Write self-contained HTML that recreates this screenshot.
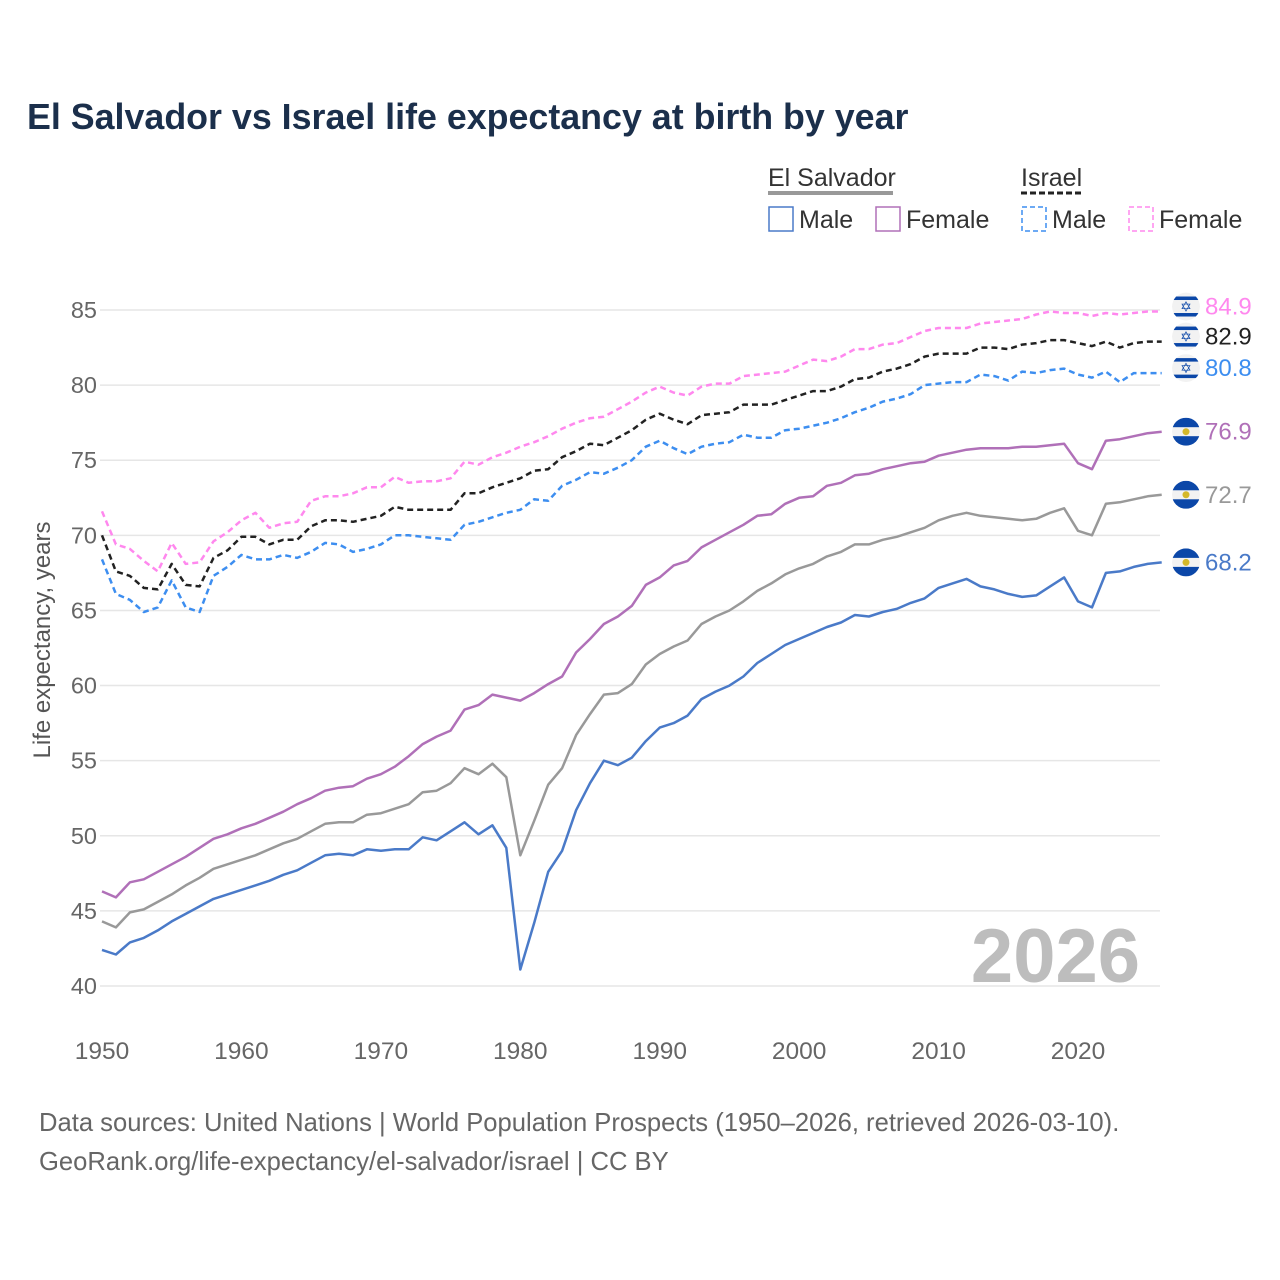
<!DOCTYPE html>
<html><head><meta charset="utf-8"><style>
body{margin:0;background:#fff;font-family:"Liberation Sans",sans-serif;}
#wrap{position:relative;width:1280px;height:1280px;overflow:hidden;}
</style></head><body>
<div id="wrap">
<svg id="chart" width="1280" height="1280" xmlns="http://www.w3.org/2000/svg">
<defs><clipPath id="flagclip"><circle cx="0" cy="0" r="14"/></clipPath></defs>
<text x="27" y="129" font-size="35.8" font-weight="bold" fill="#1b2f4b">El Salvador vs Israel life expectancy at birth by year</text>
<g font-size="25" fill="#333">
<text x="768" y="186">El Salvador</text>
<line x1="768" y1="193" x2="893" y2="193" stroke="#999" stroke-width="4"/>
<text x="1021" y="186">Israel</text>
<line x1="1021" y1="193" x2="1083" y2="193" stroke="#222" stroke-width="3" stroke-dasharray="6,3"/>
<rect x="769" y="207" width="24" height="24" fill="none" stroke="#4a7ac8" stroke-width="1.5"/>
<text x="799" y="228">Male</text>
<rect x="876" y="207" width="24" height="24" fill="none" stroke="#b070b8" stroke-width="1.5"/>
<text x="906" y="228">Female</text>
<rect x="1022" y="207" width="24" height="24" fill="none" stroke="#3d8ef0" stroke-width="1.5" stroke-dasharray="5,3"/>
<text x="1052" y="228">Male</text>
<rect x="1129" y="207" width="24" height="24" fill="none" stroke="#ff88ee" stroke-width="1.5" stroke-dasharray="5,3"/>
<text x="1159" y="228">Female</text>
</g>
<g id="grid"></g><g id="axes"></g>
<text x="1140" y="982" font-size="76" font-weight="bold" fill="#bdbdbd" text-anchor="end">2026</text>
<g id="series"></g><g id="endlabels"></g>
<text transform="translate(50,640) rotate(-90)" font-size="24" fill="#555" text-anchor="middle">Life expectancy, years</text>
<text x="39" y="1131" font-size="25.6" fill="#666">Data sources: United Nations | World Population Prospects (1950–2026, retrieved 2026-03-10).</text>
<text x="39" y="1170" font-size="25.6" fill="#666">GeoRank.org/life-expectancy/el-salvador/israel | CC BY</text>
</svg>
</div>
<script>
const startYear = 1950;
const yTicks = [40,45,50,55,60,65,70,75,80,85];
const xTicks = [1950,1960,1970,1980,1990,2000,2010,2020];
const esMale = [42.4,42.1,42.9,43.2,43.7,44.3,44.8,45.3,45.8,46.1,46.4,46.7,47.0,47.4,47.7,48.2,48.7,48.8,48.7,49.1,49.0,49.1,49.1,49.9,49.7,50.3,50.9,50.1,50.7,49.2,41.1,44.2,47.6,49.0,51.7,53.5,55.0,54.7,55.2,56.3,57.2,57.5,58.0,59.1,59.6,60.0,60.6,61.5,62.1,62.7,63.1,63.5,63.9,64.2,64.7,64.6,64.9,65.1,65.5,65.8,66.5,66.8,67.1,66.6,66.4,66.1,65.9,66.0,66.6,67.2,65.6,65.2,67.5,67.6,67.9,68.1,68.2];
const esTotal = [44.3,43.9,44.9,45.1,45.6,46.1,46.7,47.2,47.8,48.1,48.4,48.7,49.1,49.5,49.8,50.3,50.8,50.9,50.9,51.4,51.5,51.8,52.1,52.9,53.0,53.5,54.5,54.1,54.8,53.9,48.7,51.0,53.4,54.5,56.7,58.1,59.4,59.5,60.1,61.4,62.1,62.6,63.0,64.1,64.6,65.0,65.6,66.3,66.8,67.4,67.8,68.1,68.6,68.9,69.4,69.4,69.7,69.9,70.2,70.5,71.0,71.3,71.5,71.3,71.2,71.1,71.0,71.1,71.5,71.8,70.3,70.0,72.1,72.2,72.4,72.6,72.7];
const esFemale = [46.3,45.9,46.9,47.1,47.6,48.1,48.6,49.2,49.8,50.1,50.5,50.8,51.2,51.6,52.1,52.5,53.0,53.2,53.3,53.8,54.1,54.6,55.3,56.1,56.6,57.0,58.4,58.7,59.4,59.2,59.0,59.5,60.1,60.6,62.2,63.1,64.1,64.6,65.3,66.7,67.2,68.0,68.3,69.2,69.7,70.2,70.7,71.3,71.4,72.1,72.5,72.6,73.3,73.5,74.0,74.1,74.4,74.6,74.8,74.9,75.3,75.5,75.7,75.8,75.8,75.8,75.9,75.9,76.0,76.1,74.8,74.4,76.3,76.4,76.6,76.8,76.9];
const ilMale = [68.4,66.1,65.7,64.9,65.2,67.0,65.2,64.9,67.3,67.9,68.7,68.4,68.4,68.7,68.5,68.9,69.5,69.4,68.9,69.1,69.4,70.0,70.0,69.9,69.8,69.7,70.7,70.9,71.2,71.5,71.7,72.4,72.3,73.3,73.7,74.2,74.1,74.5,75.0,75.9,76.3,75.8,75.4,75.9,76.1,76.2,76.7,76.5,76.5,77.0,77.1,77.3,77.5,77.8,78.2,78.5,78.9,79.1,79.4,80.0,80.1,80.2,80.2,80.7,80.6,80.3,80.9,80.8,81.0,81.1,80.7,80.5,80.9,80.2,80.8,80.8,80.8];
const ilTotal = [70.0,67.6,67.3,66.5,66.4,68.1,66.7,66.6,68.5,69.0,69.9,69.9,69.4,69.7,69.7,70.6,71.0,71.0,70.9,71.1,71.3,71.9,71.7,71.7,71.7,71.7,72.8,72.8,73.2,73.5,73.8,74.3,74.4,75.2,75.6,76.1,76.0,76.5,77.0,77.7,78.1,77.7,77.4,78.0,78.1,78.2,78.7,78.7,78.7,79.0,79.3,79.6,79.6,79.9,80.4,80.5,80.9,81.1,81.4,81.9,82.1,82.1,82.1,82.5,82.5,82.4,82.7,82.8,83.0,83.0,82.8,82.6,82.9,82.5,82.8,82.9,82.9];
const ilFemale = [71.6,69.4,69.1,68.3,67.6,69.5,68.1,68.2,69.6,70.2,71.0,71.5,70.5,70.8,70.9,72.3,72.6,72.6,72.8,73.2,73.2,73.9,73.5,73.6,73.6,73.8,74.9,74.7,75.2,75.5,75.9,76.2,76.6,77.1,77.5,77.8,77.9,78.4,78.9,79.5,79.9,79.5,79.3,79.9,80.1,80.1,80.6,80.7,80.8,80.9,81.3,81.7,81.6,81.9,82.4,82.4,82.7,82.8,83.2,83.6,83.8,83.8,83.8,84.1,84.2,84.3,84.4,84.7,84.9,84.8,84.8,84.6,84.8,84.7,84.8,84.9,84.9];

const NS='http://www.w3.org/2000/svg';
const X = yr => 102 + (yr-1950)*13.943;
const Y = v => 986 - (v-40)*15.022;
function mk(tag, attrs, parent){const e=document.createElementNS(NS,tag);for(const k in attrs)e.setAttribute(k,attrs[k]);parent.appendChild(e);return e;}
const grid=document.getElementById('grid'), axes=document.getElementById('axes');
yTicks.forEach(t=>{
  const l=mk('line',{x1:100,x2:1160,y1:Y(t),y2:Y(t),stroke:'#e6e6e6','stroke-width':1.5},grid);
  
  
  const tx=mk('text',{x:97,y:Y(t)+8,'font-size':23.5,fill:'#666','text-anchor':'end'},axes);
  tx.textContent=t;
  
  
});
xTicks.forEach(t=>{
  const tx=mk('text',{x:X(t),y:1059,'font-size':24.5,fill:'#666','text-anchor':'middle'},axes);
  tx.textContent=t;
  
  
});
const seriesG=document.getElementById('series'), lab=document.getElementById('endlabels');
const defs=[
 {d:esMale,c:'#4a7ac8',dash:null,name:'es-male',flag:'es',lc:'#4a7ac8'},
 {d:esTotal,c:'#999999',dash:null,name:'es-total',flag:'es',lc:'#999'},
 {d:esFemale,c:'#b070b8',dash:null,name:'es-female',flag:'es',lc:'#b070b8'},
 {d:ilMale,c:'#3d8ef0',dash:'6,4',name:'il-male',flag:'il',lc:'#3d8ef0'},
 {d:ilTotal,c:'#222222',dash:'6,4',name:'il-total',flag:'il',lc:'#222'},
 {d:ilFemale,c:'#ff88ee',dash:'6,4',name:'il-female',flag:'il',lc:'#ff88ee'}
];
defs.forEach(s=>{
  const pts=s.d.map((v,i)=>X(startYear+i).toFixed(1)+','+Y(v).toFixed(1)).join(' ');
  const a={points:pts,fill:'none',stroke:s.c,'stroke-width':2.5,'stroke-linejoin':'round'};
  if(s.dash)a['stroke-dasharray']=s.dash;
  const p=mk('polyline',a,seriesG);
  
  
  const last=s.d[s.d.length-1], yl=Y(last);
  const g=mk('g',{},lab);
  
  
  const cx=1186, cy=(s.flag==='il')?yl-5:yl;
  const f=mk('g',{transform:`translate(${cx},${cy})`,'clip-path':'url(#flagclip)'},g);
  mk('circle',{cx:0,cy:0,r:14,fill:'#f2f2f2'},f);
  if(s.flag==='es'){
    mk('rect',{x:-14,y:-14,width:28,height:9.5,fill:'#0b47a8'},f);
    mk('rect',{x:-14,y:4.5,width:28,height:9.5,fill:'#0b47a8'},f);
    mk('circle',{cx:0,cy:0,r:3.5,fill:'#d4b82a'},f);
  } else {
    mk('rect',{x:-14,y:-10,width:28,height:3.5,fill:'#0b47a8'},f);
    mk('rect',{x:-14,y:6.5,width:28,height:3.5,fill:'#0b47a8'},f);
    const st=mk('text',{x:0,y:5,'font-size':14,fill:'#0b47a8','text-anchor':'middle'},f);
    st.textContent='✡';
  }
  const t=mk('text',{x:1205,y:cy+8,'font-size':24,fill:s.lc},g);
  t.textContent=last.toFixed(1);
});
</script>
</body></html>
